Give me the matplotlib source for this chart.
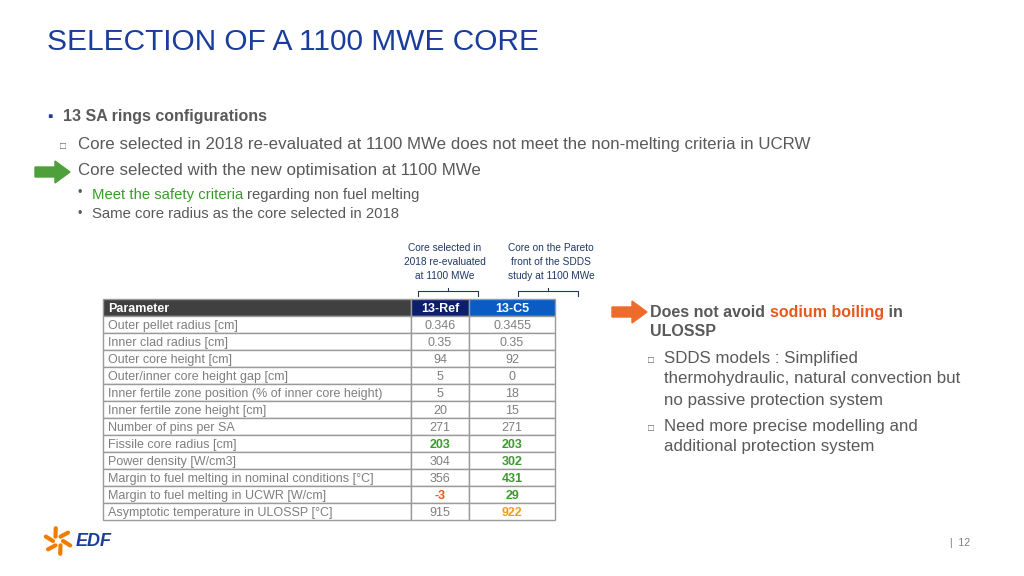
import matplotlib
matplotlib.use("Agg")
import matplotlib.pyplot as plt
import numpy as np
from matplotlib.patches import Rectangle, FancyArrow

plt.rcParams["font.family"] = "Liberation Sans"

params = ["Outer pellet radius [cm]", "Inner clad radius [cm]", "Outer core height [cm]",
          "Outer/inner core height gap [cm]", "Inner fertile zone position (% of inner core height)",
          "Inner fertile zone height [cm]", "Number of pins per SA", "Fissile core radius [cm]",
          "Power density [W/cm3]", "Margin to fuel melting in nominal conditions [°C]",
          "Margin to fuel melting in UCWR [W/cm]", "Asymptotic temperature in ULOSSP [°C]"]
ref_vals = ["0.346", "0.35", "94", "5", "5", "20", "271", "203", "304", "356", "-3", "915"]
c5_vals = ["0.3455", "0.35", "92", "0", "18", "15", "271", "203", "302", "431", "29", "922"]
ref_colors = ["g", "g", "g", "g", "g", "g", "g", "G", "g", "g", "O", "g"]
c5_colors = ["g", "g", "g", "g", "g", "g", "g", "G", "G", "G", "G", "Y"]
headers = ["Parameter", "13-Ref", "13-C5"]

W, H = 1024, 576
fig = plt.figure(figsize=(10.24, 5.76), dpi=100)
fig.patch.set_facecolor("white")
renderer = fig.canvas.get_renderer()

def T(x, y, s, **kw):
    return fig.text(x / W, 1 - y / H, s, **kw)

def runs(x, y, parts, **kw):
    for s, col, wt in parts:
        t = T(x, y, s, color=col, weight=wt, va="center_baseline", **kw)
        x += t.get_window_extent(renderer).width

GRAY = "#595959"
GREEN = "#3c9a2e"
ORANGE = "#e8581c"
cmap = {"g": "#7f7f7f", "G": GREEN, "O": ORANGE, "Y": "#f39c1e"}

T(47, 42, "SELECTION OF A 1100 MWE CORE", fontsize=21.5, color="#1a3d9c", va="center")
T(47, 117, "▪", fontsize=11, color="#1a3d9c", va="center")
T(63, 117, "13 SA rings configurations", fontsize=11.5, color=GRAY, va="center", weight="bold")
T(60, 146, "□", fontsize=7, color=GRAY, va="center")
T(78, 144, "Core selected in 2018 re-evaluated at 1100 MWe does not meet the non-melting criteria in UCRW",
  fontsize=12.2, color=GRAY, va="center")
T(78, 171, "Core selected with the new optimisation at 1100 MWe", fontsize=12.2, color=GRAY, va="center")
T(78, 193, "•", fontsize=9, color=GRAY, va="center")
runs(92, 193, [("Meet the safety criteria ", GREEN, "normal"),
               ("regarding non fuel melting", GRAY, "normal")], fontsize=10.7)
T(78, 214, "•", fontsize=9, color=GRAY, va="center")
T(92, 214, "Same core radius as the core selected in 2018", fontsize=10.7, color=GRAY, va="center")

fig.patches.append(FancyArrow(35 / W, 1 - 172 / H, 20 / W, 0, width=10 / H, head_width=22 / H,
                              head_length=15 / W, transform=fig.transFigure, color="#4ea03a"))
fig.patches.append(FancyArrow(612 / W, 1 - 312 / H, 20 / W, 0, width=10 / H, head_width=22 / H,
                              head_length=15 / W, transform=fig.transFigure, color="#ee6c2b"))

T(445, 262, "Core selected in\n2018 re-evaluated\nat 1100 MWe", fontsize=7.3, color="#1f3864",
  ha="center", va="center", linespacing=1.45)
T(551, 262, "Core on the Pareto\nfront of the SDDS\nstudy at 1100 MWe", fontsize=7.3, color="#1f3864",
  ha="center", va="center", linespacing=1.45)
for x0, x1 in [(418, 478), (518, 578)]:
    xm = (x0 + x1) / 2
    fig.lines.append(plt.Line2D([x0 / W, x0 / W, x1 / W, x1 / W], [1 - 296 / H, 1 - 291 / H, 1 - 291 / H, 1 - 296 / H],
                                transform=fig.transFigure, color="#1f3864", lw=0.8))
    fig.lines.append(plt.Line2D([xm / W, xm / W], [1 - 291 / H, 1 - 288 / H], transform=fig.transFigure,
                                color="#1f3864", lw=0.8))

# table
nrows = len(params) + 1
ax = fig.add_axes([103 / W, 1 - 520 / H, (555 - 103) / W, (520 - 299) / H])
ax.set_xlim(0, 452)
ax.set_ylim(nrows, 0)
ax.axis("off")
colx = [0, 308, 366, 452]
hdr_colors = ["#404040", "#0b1f6e", "#0a5cc4"]
for c in range(3):
    ax.add_patch(Rectangle((colx[c], 0), colx[c + 1] - colx[c], 1, facecolor=hdr_colors[c],
                           edgecolor="#9a9a9a", lw=1, clip_on=False))
ax.text(5, 0.5, headers[0], color="white", fontsize=9, weight="bold", va="center_baseline")
ax.text(337, 0.5, headers[1], color="white", fontsize=9, weight="bold", va="center_baseline", ha="center")
ax.text(409, 0.5, headers[2], color="white", fontsize=9, weight="bold", va="center_baseline", ha="center")
for i, p in enumerate(params):
    r = i + 1
    for c in range(3):
        ax.add_patch(Rectangle((colx[c], r), colx[c + 1] - colx[c], 1, facecolor="white",
                               edgecolor="#9a9a9a", lw=1, clip_on=False))
    ax.text(5, r + 0.5, p, color="#7f7f7f", fontsize=9, va="center_baseline")
    ax.text(337, r + 0.5, ref_vals[i], color=cmap[ref_colors[i]], fontsize=9, va="center_baseline", ha="center",
            weight="bold" if ref_colors[i] != "g" else "normal")
    ax.text(409, r + 0.5, c5_vals[i], color=cmap[c5_colors[i]], fontsize=9, va="center_baseline", ha="center",
            weight="bold" if c5_colors[i] != "g" else "normal")

# right text
runs(650, 311, [("Does not avoid ", GRAY, "bold"), ("sodium boiling", ORANGE, "bold"),
                (" in", GRAY, "bold")], fontsize=11.5)
T(650, 332, "ULOSSP", fontsize=11.5, color=GRAY, weight="bold", va="center")
T(648, 360, "□", fontsize=7, color=GRAY, va="center")
for k, line in enumerate(["SDDS models : Simplified", "thermohydraulic, natural convection but",
                          "no passive protection system"]):
    T(664, 358 + 21 * k, line, fontsize=12.2, color=GRAY, va="center")
T(648, 428, "□", fontsize=7, color=GRAY, va="center")
T(664, 426, "Need more precise modelling and", fontsize=12.2, color=GRAY, va="center")
T(664, 447, "additional protection system", fontsize=12.2, color=GRAY, va="center")

# footer logo
cx, cy = 58, 541
for ang in np.linspace(0, 2 * np.pi, 7)[:-1]:
    xs = [cx + 5 * np.cos(ang), cx + 13 * np.cos(ang + 0.35)]
    ys = [cy + 5 * np.sin(ang), cy + 13 * np.sin(ang + 0.35)]
    fig.lines.append(plt.Line2D([x / W for x in xs], [1 - y / H for y in ys], transform=fig.transFigure,
                                color="#f07d00", lw=3, solid_capstyle="round"))
T(76, 541, "EDF", fontsize=13, color="#1a3d9c", weight="bold", va="center", style="italic")
T(950, 543, "|  12", fontsize=7.5, color="#7f7f7f", va="center")

fig.savefig("out.png", dpi=100)
